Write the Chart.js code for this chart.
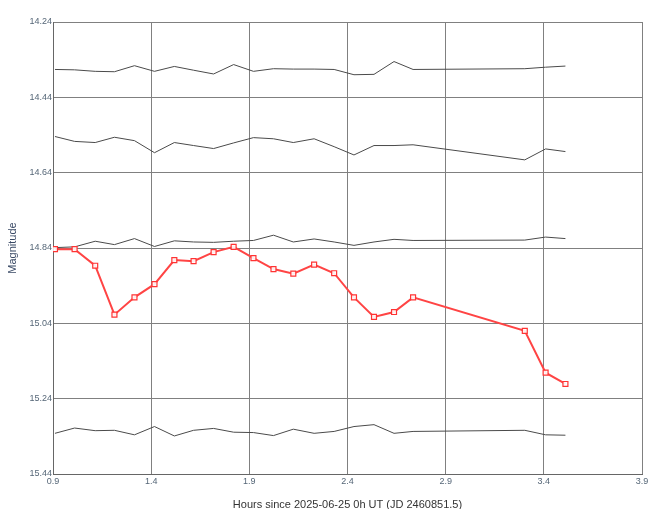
<!DOCTYPE html>
<html>
<head>
<meta charset="utf-8">
<script src="https://cdn.jsdelivr.net/npm/chart.js@4/dist/chart.umd.min.js"></script>
<style>
  body { margin: 0; background: #fff; }
  #wrap { width: 656px; height: 509px; }
</style>
</head>
<body>
<div id="wrap"><canvas id="lc" width="656" height="509"></canvas></div>
<script>
// hours since 2025-06-25 0h UT
const hours = [0.910, 1.010, 1.115, 1.213, 1.315, 1.417, 1.518, 1.616, 1.718, 1.820, 1.921,
               2.023, 2.124, 2.230, 2.332, 2.433, 2.535, 2.637, 2.734, 3.303, 3.409, 3.510];

// target star
const target = [14.843, 14.843, 14.887, 15.017, 14.971, 14.936, 14.872, 14.875, 14.851, 14.837, 14.867,
                 14.896, 14.908, 14.884, 14.907, 14.971, 15.023, 15.010, 14.971, 15.060, 15.171, 15.201];

// comparison stars
const comp1 = [14.366, 14.367, 14.371, 14.372, 14.356, 14.371, 14.358, 14.368, 14.378, 14.353, 14.371,
               14.364, 14.365, 14.365, 14.366, 14.380, 14.379, 14.345, 14.366, 14.364, 14.360, 14.357];
const comp2 = [14.544, 14.557, 14.560, 14.546, 14.555, 14.587, 14.560, 14.568, 14.576, 14.561, 14.547,
               14.550, 14.560, 14.550, 14.571, 14.593, 14.568, 14.568, 14.566, 14.606, 14.577, 14.584];
const comp3 = [14.839, 14.837, 14.822, 14.831, 14.815, 14.836, 14.821, 14.824, 14.825, 14.822, 14.820,
               14.806, 14.824, 14.816, 14.824, 14.833, 14.824, 14.817, 14.820, 14.819, 14.811, 14.815];
const comp4 = [15.332, 15.318, 15.325, 15.324, 15.336, 15.314, 15.339, 15.324, 15.319, 15.329, 15.330,
               15.338, 15.321, 15.332, 15.327, 15.314, 15.309, 15.332, 15.327, 15.324, 15.336, 15.337];

const xTicks = [0.9, 1.4, 1.9, 2.4, 2.9, 3.4, 3.9];
const yTicks = [14.24, 14.44, 14.64, 14.84, 15.04, 15.24, 15.44];

const pts = (ys) => hours.map((h, i) => ({ x: h, y: ys[i] }));

const compStyle = (ys) => ({
    data: pts(ys),
    showLine: true,
    borderColor: '#4a4a4a',
    borderWidth: 1,
    pointRadius: 0,
    order: 2
});

new Chart(document.getElementById('lc').getContext('2d'), {
    type: 'scatter',
    data: {
        datasets: [
            compStyle(comp1),
            compStyle(comp2),
            compStyle(comp3),
            compStyle(comp4),
            {
                data: pts(target),
                showLine: true,
                borderColor: '#ff4444',
                borderWidth: 2,
                pointStyle: 'rect',
                pointRadius: 3.5,
                pointBorderWidth: 1.2,
                pointBorderColor: '#ff3333',
                pointBackgroundColor: 'rgba(255,255,255,0.9)',
                order: 1
            }
        ]
    },
    options: {
        responsive: false,
        animation: false,
        layout: { padding: { left: 0, right: 14, top: 22, bottom: 0 } },
        plugins: { legend: { display: false }, tooltip: { enabled: false } },
        scales: {
            x: {
                type: 'linear',
                min: 0.9,
                max: 3.9,
                afterBuildTicks: (s) => { s.ticks = xTicks.map(v => ({ value: v })); },
                afterFit: (s) => { s.height = 35; },
                grid: { color: '#808080', drawTicks: false },
                border: { color: '#666' },
                ticks: {
                    padding: 2,
                    maxRotation: 0,
                    autoSkip: false,
                    color: '#556677',
                    font: { size: 9, family: 'Liberation Sans, Arial, sans-serif' },
                    callback: (v) => Number(v).toFixed(1)
                },
                title: {
                    display: true,
                    text: 'Hours since 2025-06-25 0h UT (JD 2460851.5)',
                    color: '#333',
                    padding: { top: 0, bottom: -3 },
                    font: { size: 11, family: 'Liberation Sans, Arial, sans-serif' }
                }
            },
            y: {
                type: 'linear',
                reverse: true,
                min: 14.24,
                max: 15.44,
                afterBuildTicks: (s) => { s.ticks = yTicks.map(v => ({ value: v })); },
                afterFit: (s) => { s.width = 53; },
                grid: { color: '#808080', drawTicks: false },
                border: { color: '#666' },
                ticks: {
                    padding: 1,
                    autoSkip: false,
                    color: '#556677',
                    font: { size: 9, family: 'Liberation Sans, Arial, sans-serif' },
                    callback: (v) => Number(v).toFixed(2)
                },
                title: {
                    display: true,
                    text: 'Magnitude',
                    color: '#3a4a66',
                    padding: { top: 6, bottom: 0 },
                    font: { size: 11, family: 'Liberation Sans, Arial, sans-serif' }
                }
            }
        }
    }
});
</script>
</body>
</html>
